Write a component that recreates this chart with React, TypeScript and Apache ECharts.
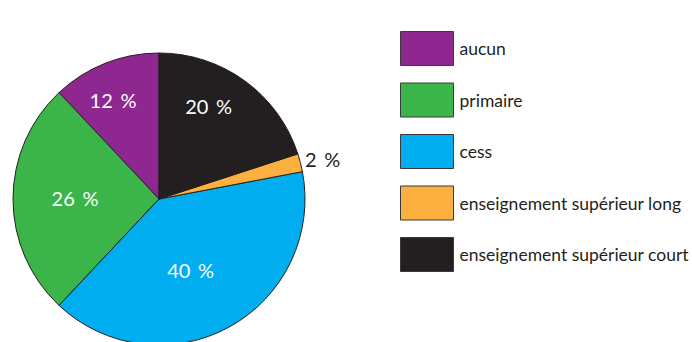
import React, { useEffect, useRef } from "react";
import * as echarts from "echarts";

const categories = ["aucun", "primaire", "cess", "enseignement supérieur long", "enseignement supérieur court"];
const values = [12, 26, 40, 2, 20];
const colors = ["#8E278F", "#3BB44A", "#00AEEF", "#FBB040", "#231F20"];
const labelOffsets: [number, number][] = [[-18, -28], [-8, -1], [-5, 4], [90, -21], [5, -32]];
const labelColors = ["#ffffff", "#ffffff", "#ffffff", "#231F20", "#ffffff"];

export default function App() {
  const ref = useRef<HTMLDivElement>(null);
  useEffect(() => {
    document.body.style.margin = "0";
    const chart = echarts.init(ref.current!, null, { renderer: "svg" });
    chart.setOption({
      animation: false,
      backgroundColor: "#ffffff",
      legend: {
        orient: "vertical",
        left: 395,
        top: 26,
        itemWidth: 53,
        itemHeight: 34,
        itemGap: 16.5,
        icon: "rect",
        data: categories,
        itemStyle: { borderColor: "#3a3a3a", borderWidth: 1 },
        textStyle: { fontFamily: "Lato", fontSize: 17.5, color: "#231F20", padding: [0, 0, 0, 1] },
        selectedMode: false,
      },
      series: [
        {
          type: "pie",
          center: [159, 199],
          radius: 146,
          startAngle: 90,
          clockwise: false,
          label: { show: true, position: "inside", fontFamily: "Lato", fontSize: 20, formatter: "{c}\u2009 %" },
          labelLine: { show: false },
          itemStyle: { borderColor: "#231F20", borderWidth: 1 },
          emphasis: { disabled: true },
          data: categories.map((name, i) => ({
            name,
            value: values[i],
            itemStyle: { color: colors[i] },
            label: { offset: labelOffsets[i], color: labelColors[i] },
          })),
        },
      ],
    });
    return () => chart.dispose();
  }, []);
  return <div ref={ref} style={{ width: 692, height: 342 }} />;
}
